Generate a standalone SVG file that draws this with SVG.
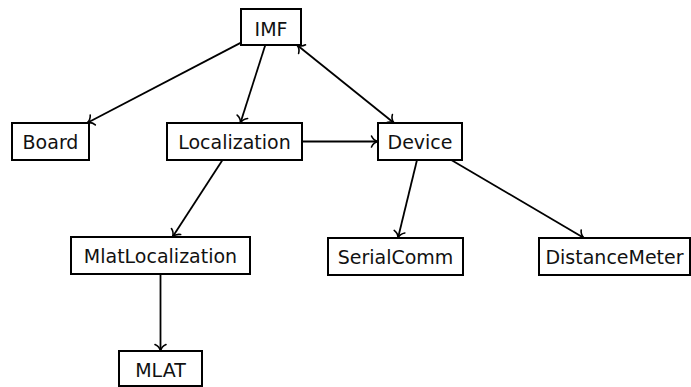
<svg xmlns="http://www.w3.org/2000/svg" width="691" height="387" viewBox="0 0 691 387">
<style>
.box{fill:#fff;stroke:#000;stroke-width:2}
.lbl{font-family:"DejaVu Sans",sans-serif;font-size:19px;fill:#111;text-anchor:middle}
.edge{stroke:#000;stroke-width:1.8;fill:none;marker-end:url(#arr)}
</style>
<defs>
<marker id="arr" markerUnits="userSpaceOnUse" markerWidth="16" markerHeight="16" viewBox="-9 -8 12 16" refX="0" refY="0" orient="auto-start-reverse">
<path d="M-6.5,-5.5 C-5.2,-2.4 -2.6,-0.6 0,0 C-2.6,0.6 -5.2,2.4 -6.5,5.5" fill="none" stroke="#000" stroke-width="1.6" stroke-linecap="round"/>
</marker>
</defs>
<rect width="691" height="387" fill="#fff"/>
<g id="connectors">
<line class="edge" x1="241" y1="42.6" x2="87" y2="123"/>
<line class="edge" x1="265.3" y1="45" x2="240.4" y2="123"/>
<line class="edge" x1="302" y1="141.5" x2="378" y2="141.5"/>
<line class="edge" x1="297" y1="45" x2="394" y2="123" marker-start="url(#arr)"/>
<line class="edge" x1="222.5" y1="160" x2="172.5" y2="237"/>
<line class="edge" x1="160.5" y1="274" x2="160.5" y2="351"/>
<line class="edge" x1="417" y1="160" x2="398" y2="238"/>
<line class="edge" x1="451.3" y1="160" x2="584" y2="238"/>
</g>
<g id="IMF"><rect class="box" x="241" y="9" width="60" height="36"/><text class="lbl" x="271" y="35.5">IMF</text></g>
<g id="Board"><rect class="box" x="12" y="123" width="77" height="37"/><text class="lbl" x="50.5" y="149">Board</text></g>
<g id="Localization"><rect class="box" x="167" y="123" width="135" height="37"/><text class="lbl" x="234.5" y="149">Localization</text></g>
<g id="Device"><rect class="box" x="378" y="123" width="84" height="37"/><text class="lbl" x="420" y="149">Device</text></g>
<g id="MlatLocalization"><rect class="box" x="71" y="237" width="179" height="37"/><text class="lbl" x="160.5" y="263">MlatLocalization</text></g>
<g id="SerialComm"><rect class="box" x="328" y="238" width="135" height="37"/><text class="lbl" x="395.5" y="264">SerialComm</text></g>
<g id="DistanceMeter"><rect class="box" x="539" y="238" width="151" height="37"/><text class="lbl" x="614.5" y="264">DistanceMeter</text></g>
<g id="MLAT"><rect class="box" x="119" y="351" width="83" height="35"/><text class="lbl" x="160.5" y="376.5">MLAT</text></g>
</svg>
